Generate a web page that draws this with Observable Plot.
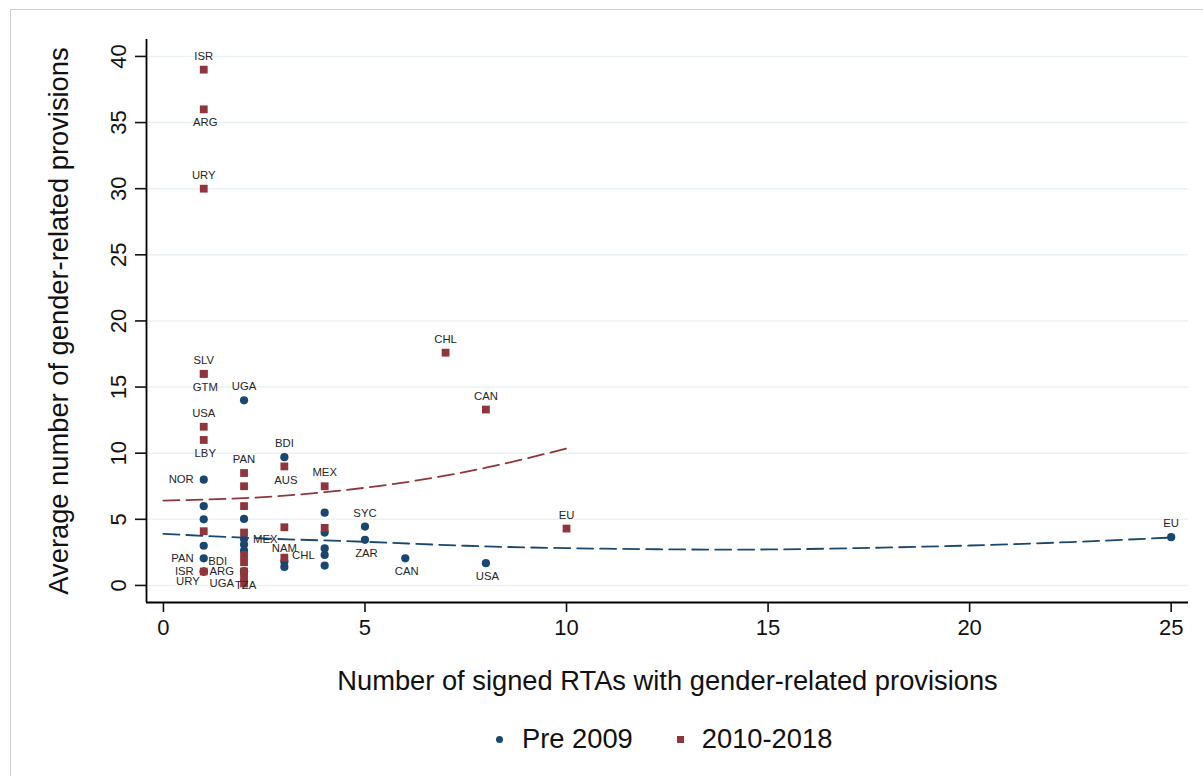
<!DOCTYPE html>
<html><head><meta charset="utf-8">
<script src="https://cdn.jsdelivr.net/npm/d3@7"></script>
<script src="https://cdn.jsdelivr.net/npm/@observablehq/plot@0.6"></script>
<style>
body{margin:0;background:#fff;font-family:"Liberation Sans",Arial,sans-serif;}
#wrap{position:relative;width:1203px;height:776px;overflow:hidden;background:#fff;}
#border{position:absolute;left:10px;top:9px;width:1250px;height:820px;border-left:1.5px solid #cfcfcf;border-top:1.5px solid #cfcfcf;}
#chart{position:absolute;left:0;top:0;}
#legend{position:absolute;top:722px;left:496px;height:34px;display:flex;align-items:center;font-size:27.3px;color:#111;white-space:nowrap;}
#legend .sym{display:inline-block;width:7px;height:7px;}
</style></head>
<body><div id="wrap"><div id="border"></div><div id="chart"></div><div id="legend"></div></div>
<script>
// ---- data ----
const seriesNames = ["Pre 2009", "2010-2018"];
const seriesColors = ["#1a476f", "#90353b"];

// Pre 2009 (blue circles)
const preX   = [1, 1, 1, 1, 1, 1, 1, 2, 2, 2, 2, 2, 2, 2, 3, 3, 3, 4, 4, 4, 4, 4, 5, 5, 6, 8, 25];
const preY   = [8.0, 6.0, 5.0, 3.0, 2.05, 1.05, 1.05, 14.0, 5.03, 3.52, 3.09, 2.64, 1.06, 1.06, 9.7, 1.8, 1.4, 5.5, 4.0, 2.8, 2.3, 1.5, 4.45, 3.45, 2.05, 1.68, 3.65];
const preLab = ["NOR", "", "", "", "PAN", "ISR", "URY", "UGA", "", "MEX", "", "", "ARG", "TZA", "BDI", "NAM", "", "", "", "", "CHL", "", "SYC", "ZAR", "CAN", "USA", "EU"];
const prePos = [9, 0, 0, 0, 9, 9, 7, 12, 0, 3, 0, 0, 9, 6, 12, 12, 0, 0, 0, 0, 9, 0, 12, 6, 6, 6, 12];

// 2010-2018 (red squares)
const postX   = [1, 1, 1, 1, 1, 1, 1, 1, 1, 2, 2, 2, 2, 2, 2, 2, 2, 2, 3, 3, 3, 4, 4, 7, 8, 10];
const postY   = [39, 36, 30, 16, 16, 12, 11, 4.1, 1.05, 8.5, 7.5, 6.0, 4.0, 2.3, 1.75, 1.06, 0.55, 0.15, 9.0, 4.4, 2.1, 7.5, 4.35, 17.6, 13.3, 4.3];
const postLab = ["ISR", "ARG", "URY", "SLV", "GTM", "USA", "LBY", "", "", "PAN", "", "", "", "BDI", "", "", "", "UGA", "AUS", "", "", "MEX", "", "CHL", "CAN", "EU"];
const postPos = [12, 6, 12, 12, 6, 12, 6, 0, 0, 12, 0, 0, 0, 8, 0, 0, 0, 9, 6, 0, 0, 12, 0, 12, 12, 12];

// quadratic fit lines
const preFitX  = [0, 2.5, 5, 7.5, 10, 12.5, 15, 17.5, 20, 22.5, 25];
const preFitY  = [3.9, 3.55, 3.3, 3.0, 2.82, 2.73, 2.72, 2.84, 3.02, 3.28, 3.62];
const postFitX = [0, 2, 4, 6, 8, 10];
const postFitY = [6.42, 6.6, 7.05, 7.8, 8.9, 10.35];

const xTicks = [0, 5, 10, 15, 20, 25];
const yTicks = [0, 5, 10, 15, 20, 25, 30, 35, 40];
const xTitle = "Number of signed RTAs with gender-related provisions";
const yTitle = "Average number of gender-related provisions";

// ---- build ----
const pre = preX.map((x, i) => ({x, y: preY[i], label: preLab[i], pos: prePos[i]}));
const post = postX.map((x, i) => ({x, y: postY[i], label: postLab[i], pos: postPos[i]}));
const preFit = preFitX.map((x, i) => ({x, y: preFitY[i]}));
const postFit = postFitX.map((x, i) => ({x, y: postFitY[i]}));

const xDomain = [-0.42, 25.43];
const yDomain = [-1.29, 41.28];

const clock = {
  12: {dx: 0, dy: -13.5, textAnchor: "middle"},
  6: {dx: 1.5, dy: 13.5, textAnchor: "middle"},
  9: {dx: -10, dy: 0, textAnchor: "end"},
  3: {dx: 9, dy: 0, textAnchor: "start"},
  7: {dx: -4, dy: 10, textAnchor: "end"},
  8: {dx: -17, dy: 6, textAnchor: "end"}
};
const labelMarks = [];
for (const data of [pre, post]) {
  for (const p of Object.keys(clock)) {
    const o = clock[p];
    labelMarks.push(Plot.text(data.filter(d => d.label && String(d.pos) === p), {
      x: "x", y: "y", text: "label", dx: o.dx, dy: o.dy, textAnchor: o.textAnchor,
      lineAnchor: "middle", fontSize: 11.3, fill: "#262626"
    }));
  }
}

const dash = "16,7";
const chart = Plot.plot({
  width: 1203, height: 700,
  marginLeft: 146, marginRight: 15, marginTop: 39, marginBottom: 98,
  style: {fontFamily: '"Liberation Sans", Arial, sans-serif', background: "transparent", color: "#111"},
  x: {domain: xDomain},
  y: {domain: yDomain},
  marks: [
    Plot.gridY(yTicks, {stroke: "#eaf2f3", strokeOpacity: 1, strokeWidth: 1.6}),
    Plot.axisX({ticks: xTicks, tickSize: 10, tickPadding: 7, fontSize: 22, label: null, tickFormat: d => String(d), strokeWidth: 1.6}),
    Plot.axisY({ticks: yTicks, tickSize: 11, tickFormat: () => "", label: null, strokeWidth: 1.6}),
    Plot.text(yTicks, {y: d => d, text: d => String(d), frameAnchor: "left", dx: -28, rotate: -90, fontSize: 22, lineAnchor: "middle", textAnchor: "middle", fill: "#111"}),
    Plot.text([yTitle], {text: d => d, frameAnchor: "left", dx: -87, rotate: -90, fontSize: 27.3, lineAnchor: "middle", textAnchor: "middle", fill: "#111"}),
    Plot.text([xTitle], {text: d => d, frameAnchor: "bottom", dy: 79, fontSize: 27.3, lineAnchor: "middle", textAnchor: "middle", fill: "#111"}),
    Plot.ruleX([xDomain[0]], {stroke: "#000", strokeWidth: 1.8}),
    Plot.ruleY([yDomain[0]], {stroke: "#000", strokeWidth: 1.8}),
    Plot.dot(pre, {x: "x", y: "y", r: 4.1, fill: seriesColors[0], stroke: "none", symbol: "circle"}),
    Plot.dot(post, {x: "x", y: "y", r: 4.4, fill: seriesColors[1], stroke: "none", symbol: "square"}),
    Plot.line(preFit, {x: "x", y: "y", stroke: seriesColors[0], strokeWidth: 1.8, strokeDasharray: dash, curve: "natural"}),
    Plot.line(postFit, {x: "x", y: "y", stroke: seriesColors[1], strokeWidth: 1.8, strokeDasharray: dash, curve: "natural"}),
    ...labelMarks
  ]
});
document.getElementById("chart").appendChild(chart);

// legend
const leg = document.getElementById("legend");
seriesNames.forEach((name, i) => {
  const sym = document.createElement("span");
  sym.className = "sym";
  sym.style.background = seriesColors[i];
  if (i === 0) sym.style.borderRadius = "50%";
  sym.style.marginRight = i === 0 ? "19px" : "18px";
  const t = document.createElement("span");
  t.textContent = name;
  if (i === 0) t.style.marginRight = "44px";
  leg.appendChild(sym); leg.appendChild(t);
});
</script>
</body></html>
